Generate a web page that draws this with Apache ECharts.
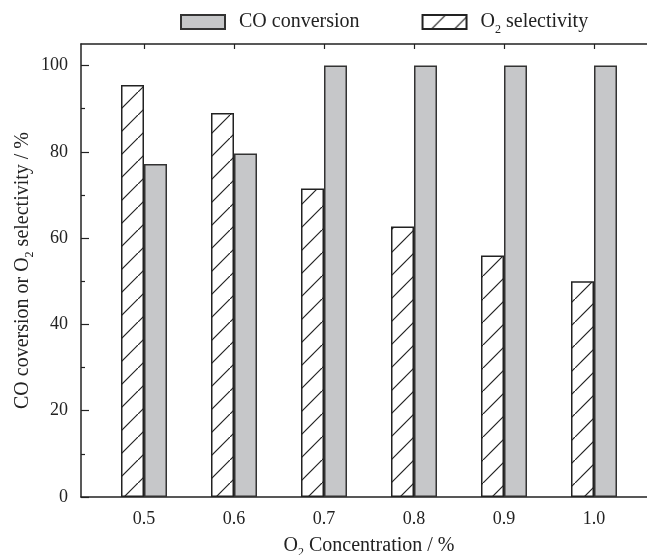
<!DOCTYPE html>
<html>
<head>
<meta charset="utf-8">
<script src="https://cdn.jsdelivr.net/npm/echarts@6/dist/echarts.min.js"></script>
<style>html,body{margin:0;padding:0;background:#fff;}#c{width:647px;height:555px;}</style>
</head>
<body>
<div id="c"></div>
<script>
const categories = ['0.5', '0.6', '0.7', '0.8', '0.9', '1.0'];
const o2Selectivity = [95.5, 89.0, 71.5, 62.7, 56.0, 50.0];
const coConversion = [77.2, 79.6, 100, 100, 100, 100];
const yTicks = [0, 20, 40, 60, 80, 100];
const yMinorTicks = [10, 30, 50, 70, 90];

const FONT = '"Liberation Serif", "Times New Roman", serif';
const INK = '#222';

// hatch pattern
const hc = document.createElement('canvas');
hc.width = 23; hc.height = 23;
const g = hc.getContext('2d');
g.fillStyle = '#fff'; g.fillRect(0, 0, 23, 23);
g.strokeStyle = '#222'; g.lineWidth = 1.2;
g.beginPath();
g.moveTo(-2, 25); g.lineTo(25, -2);
g.stroke();

const subRich = {
  m: { fontFamily: FONT, fontSize: 20, color: INK },
  s: { fontFamily: FONT, fontSize: 12, color: INK, padding: [15, 0, 0, 0] }
};

const lineStyle = { color: INK, width: 1.5 };
const tickStyle = { color: INK, width: 1.2 };

const chart = echarts.init(document.getElementById('c'), null, { renderer: 'canvas' });
chart.setOption({
  animation: false,
  backgroundColor: '#fff',
  textStyle: { fontFamily: FONT, color: INK },
  legend: {
    left: 175, top: 7, icon: 'rect',
    itemWidth: 44, itemHeight: 14, itemGap: 62,
    data: ['CO conversion', 'O2 selectivity'],
    formatter: function (n) {
      if (n === 'O2 selectivity') return '{m|O}{s|2}{m| selectivity}';
      return '{m|' + n + '}';
    },
    textStyle: { fontFamily: FONT, fontSize: 20, color: INK, padding: [0, 0, 0, 9], rich: subRich }
  },
  grid: [
    { left: 81, top: 44, width: 576, height: 453, containLabel: false, outerBoundsMode: 'none' },
    { left: 99, top: 44, width: 540, height: 453, containLabel: false, outerBoundsMode: 'none' }
  ],
  xAxis: [{
    gridIndex: 0, type: 'value', min: 0, max: 1, position: 'bottom',
    axisLine: { onZero: false, lineStyle: lineStyle },
    axisTick: { show: false }, axisLabel: { show: false }, splitLine: { show: false },
    name: '{m|O}{s|2}{m| Concentration / %}',
    nameLocation: 'middle', nameGap: 35,
    nameTextStyle: { rich: subRich }
  }, {
    gridIndex: 0, type: 'value', min: 0, max: 1, position: 'top',
    axisLine: { show: true, onZero: false, lineStyle: lineStyle },
    axisTick: { show: false }, axisLabel: { show: false }, splitLine: { show: false }
  }, {
    gridIndex: 1, type: 'category', data: categories, position: 'bottom',
    axisLine: { show: false, onZero: false },
    axisTick: { show: true, inside: true, length: 5, alignWithLabel: true, lineStyle: tickStyle },
    axisLabel: { fontFamily: FONT, fontSize: 18, color: INK, margin: 13 },
    splitLine: { show: false }
  }, {
    gridIndex: 1, type: 'category', data: categories, position: 'top',
    axisLine: { show: false, onZero: false },
    axisTick: { show: true, inside: true, length: 5, alignWithLabel: true, lineStyle: tickStyle },
    axisLabel: { show: false },
    splitLine: { show: false }
  }],
  yAxis: [{
    gridIndex: 0, type: 'value', min: 0, max: 105, position: 'left',
    axisLine: { show: true, onZero: false, lineStyle: lineStyle },
    axisTick: { show: true, inside: true, length: 8, customValues: yTicks, lineStyle: tickStyle },
    axisLabel: { customValues: yTicks, fontFamily: FONT, fontSize: 18, color: INK, margin: 13 },
    splitLine: { show: false },
    name: '{m|CO coversion or O}{s|2}{m| selectivity / %}',
    nameLocation: 'middle', nameGap: 45, nameRotate: 90, nameMoveOverlap: false,
    nameTextStyle: { rich: subRich }
  }, {
    gridIndex: 0, type: 'value', min: 0, max: 105, position: 'left', offset: 0,
    axisLine: { show: false },
    axisTick: { show: true, inside: true, length: 4, customValues: yMinorTicks, lineStyle: tickStyle },
    axisLabel: { show: false },
    splitLine: { show: false }
  }, {
    gridIndex: 1, type: 'value', min: 0, max: 105, show: false
  }],
  series: [{
    name: 'O2 selectivity', type: 'bar', xAxisIndex: 2, yAxisIndex: 2,
    barWidth: 23, barGap: '0%',
    data: o2Selectivity,
    itemStyle: { color: { image: hc, repeat: 'repeat' }, borderColor: '#222', borderWidth: 1.5 }
  }, {
    name: 'CO conversion', type: 'bar', xAxisIndex: 2, yAxisIndex: 2,
    barWidth: 23, barGap: '0%',
    data: coConversion,
    itemStyle: { color: '#c6c7c9', borderColor: '#333', borderWidth: 1.5 }
  }]
});
</script>
</body>
</html>
